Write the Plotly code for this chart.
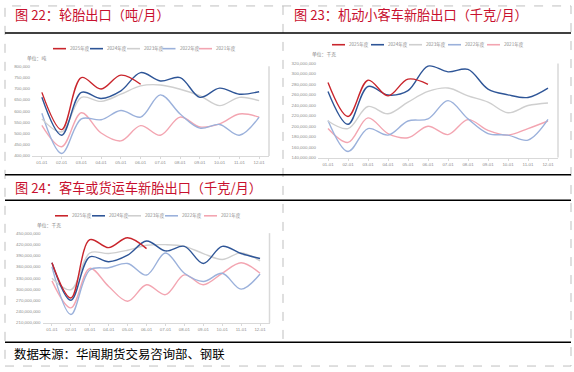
import plotly.graph_objects as go

W, H = 574, 372

months = ["01-01", "02-01", "03-01", "04-01", "05-01", "06-01",
          "07-01", "08-01", "09-01", "10-01", "11-01", "12-01"]
series_names = ["2025年度", "2024年度", "2023年度", "2022年度", "2021年度"]
series_colors = ["#C9252C", "#2E5597", "#CFCFCF", "#9BB1DB", "#F3A5B1"]

# 图22 轮胎出口（吨/月）
tyre_2025 = [683000, 517000, 749000, 698000, 760000, 719000]
tyre_2024 = [661000, 492000, 683000, 656000, 690000, 771000, 734000, 749000, 661000, 702000, 675000, 686000]
tyre_2023 = [565000, 507000, 661000, 643000, 675000, 712000, 716000, 697000, 668000, 624000, 661000, 646000]
tyre_2022 = [590000, 411000, 565000, 561000, 602000, 573000, 672000, 587000, 524000, 540000, 492000, 573000]
tyre_2021 = [536000, 441000, 592000, 502000, 467000, 535000, 492000, 573000, 529000, 543000, 587000, 573000]

# 图23 机动小客车新胎出口（千克/月）
car_2025 = [283.5e6, 218.7e6, 288e6, 258e6, 290e6, 280e6]
car_2024 = [266.5e6, 203.6e6, 276e6, 259.6e6, 268e6, 315e6, 304e6, 308.7e6, 271e6, 260e6, 255e6, 272.8e6]
car_2023 = [210e6, 195.5e6, 237.6e6, 223.8e6, 246e6, 266.5e6, 273e6, 258e6, 246e6, 225.7e6, 239.5e6, 244.5e6]
car_2022 = [211e6, 151.5e6, 195.5e6, 183e6, 210e6, 214e6, 249e6, 214e6, 186e6, 183e6, 173.5e6, 213e6]
car_2021 = [195.5e6, 169e6, 216e6, 186e6, 178e6, 200e6, 184e6, 212.5e6, 192e6, 183e6, 195.5e6, 210e6]

# 图24 客车或货运车新胎出口（千克/月）
bus_2025 = [371e6, 276.7e6, 432.4e6, 411.3e6, 437.7e6, 408.6e6]
bus_2024 = [371e6, 270.5e6, 386.7e6, 373.5e6, 391e6, 428.9e6, 402.5e6, 414.8e6, 369e6, 414.8e6, 395.5e6, 382.3e6]
bus_2023 = [329.5e6, 298.7e6, 397e6, 395.5e6, 404.3e6, 417.5e6, 419.2e6, 414.8e6, 395.5e6, 379.6e6, 397.2e6, 376e6]
bus_2022 = [360e6, 232.7e6, 351.5e6, 357.6e6, 369e6, 338e6, 397e6, 342.7e6, 320.7e6, 342.7e6, 300.4e6, 340.9e6]
bus_2021 = [322.4e6, 250.3e6, 355.9e6, 307.5e6, 268e6, 312e6, 285.5e6, 338.3e6, 312e6, 342.7e6, 371e6, 342.7e6]

titles = ["图 22：轮胎出口（吨/月）", "图 23：机动小客车新胎出口（千克/月）", "图 24：客车或货运车新胎出口（千克/月）"]
units = ["单位：吨", "单位：千克", "单位：千克"]
source_text = "数据来源：华闻期货交易咨询部、钢联"


def px(x):
    return x / W


def py(y):
    return 1 - y / H


fig = go.Figure()

charts = [
    dict(data=[tyre_2025, tyre_2024, tyre_2023, tyre_2022, tyre_2021],
         xdom=(32, 269), ydom=(156, 65), rng=(400000, 800000), dtick=50000,
         legend_x=[53, 90, 127, 162.5, 199], legend_y=47.3, unit_xy=(25, 56.7),
         title_xy=(13, 12.7)),
    dict(data=[car_2025, car_2024, car_2023, car_2022, car_2021],
         xdom=(318, 558), ydom=(157.7, 62.3), rng=(140e6, 320e6), dtick=20e6,
         legend_x=[332, 371, 409, 448, 487], legend_y=43.3, unit_xy=(310, 53),
         title_xy=(292, 12.7)),
    dict(data=[bus_2025, bus_2024, bus_2023, bus_2022, bus_2021],
         xdom=(42.5, 269.5), ydom=(325.3, 234.3), rng=(210e6, 450e6), dtick=30e6,
         legend_x=[55, 92, 128, 165, 204], legend_y=216.7, unit_xy=(35, 226),
         title_xy=(13, 188)),
]

shapes = []
annotations = []
tick_font = dict(family="Liberation Sans, Arial", size=4.4, color="#8C8C8C")

for i, ch in enumerate(charts):
    sfx = "" if i == 0 else str(i + 1)
    xa, ya = "x" + sfx, "y" + sfx
    # draw order: oldest first so 2025 on top
    for k in reversed(range(5)):
        vals = ch["data"][k]
        fig.add_trace(go.Scatter(
            x=months[:len(vals)], y=vals, mode="lines",
            line=dict(color=series_colors[k], width=1.4, shape="spline", smoothing=1.0),
            name=series_names[k], showlegend=False, xaxis=xa, yaxis=ya,
            hoverinfo="skip"))
    fig.layout["xaxis" + sfx] = dict(
        domain=[px(ch["xdom"][0]), px(ch["xdom"][1])], anchor=ya,
        type="category", categoryorder="array", categoryarray=months,
        range=[-0.5, 11.5], showgrid=False, zeroline=False,
        showline=True, linecolor="#D9D9D9", linewidth=1,
        ticks="outside", ticklen=2, tickcolor="#D9D9D9", tickfont=tick_font,
        fixedrange=True)
    fig.layout["yaxis" + sfx] = dict(
        domain=[py(ch["ydom"][0]), py(ch["ydom"][1])], anchor=xa,
        range=list(ch["rng"]), dtick=ch["dtick"], tick0=ch["rng"][0],
        tickformat=",d", showgrid=False, zeroline=False, showline=False,
        ticks="", tickfont=tick_font, ticklabelstandoff=1, fixedrange=True)
    # right border line of the plot area
    shapes.append(dict(type="line", xref=xa + " domain", yref=ya + " domain",
                       x0=1, x1=1, y0=0, y1=1, line=dict(color="#D9D9D9", width=1.5)))
    # manual legend
    for k in range(5):
        lx = ch["legend_x"][k]
        ly = ch["legend_y"]
        shapes.append(dict(type="line", xref="paper", yref="paper",
                           x0=px(lx), x1=px(lx + 13), y0=py(ly), y1=py(ly),
                           line=dict(color=series_colors[k], width=1.6)))
        annotations.append(dict(xref="paper", yref="paper", x=px(lx + 15), y=py(ly),
                                xanchor="left", yanchor="middle", showarrow=False,
                                text=series_names[k],
                                font=dict(family="Noto Sans CJK SC", size=4.6, color="#8C8C8C")))
    # unit label
    annotations.append(dict(xref="paper", yref="paper", x=px(ch["unit_xy"][0]), y=py(ch["unit_xy"][1]),
                            xanchor="left", yanchor="middle", showarrow=False, text=units[i],
                            font=dict(family="Noto Sans CJK SC", size=4.8, color="#7F7F7F")))
    # title
    annotations.append(dict(xref="paper", yref="paper", x=px(ch["title_xy"][0]), y=py(ch["title_xy"][1]),
                            xanchor="left", yanchor="middle", showarrow=False, text=titles[i],
                            font=dict(family="Noto Sans CJK SC", size=13.2, color="#C8102E")))

# footer
annotations.append(dict(xref="paper", yref="paper", x=px(12), y=py(357),
                        xanchor="left", yanchor="middle", showarrow=False, text=source_text,
                        font=dict(family="Noto Sans CJK SC", size=12.4, color="#000000")))

# frame: dashed outer border & divider
shapes.append(dict(type="rect", xref="paper", yref="paper", x0=px(5), x1=px(571), y0=py(369), y1=py(4),
                   line=dict(color="#BFBFBF", width=1, dash="dash")))
shapes.append(dict(type="line", xref="paper", yref="paper", x0=px(283), x1=px(283), y0=py(4), y1=py(345),
                   line=dict(color="#BFBFBF", width=1, dash="dash")))
for yy in [31.5, 175, 201, 345]:
    shapes.append(dict(type="line", xref="paper", yref="paper", x0=px(5), x1=px(571), y0=py(yy), y1=py(yy),
                       line=dict(color="#000000", width=1.5)))

fig.update_layout(
    width=W, height=H, margin=dict(l=0, r=0, t=0, b=0),
    paper_bgcolor="white", plot_bgcolor="white",
    shapes=shapes, annotations=annotations, showlegend=False,
)

fig.write_html("out.html", config={"displayModeBar": False},
               post_script="document.body.style.margin='0';document.body.style.overflow='hidden';")
